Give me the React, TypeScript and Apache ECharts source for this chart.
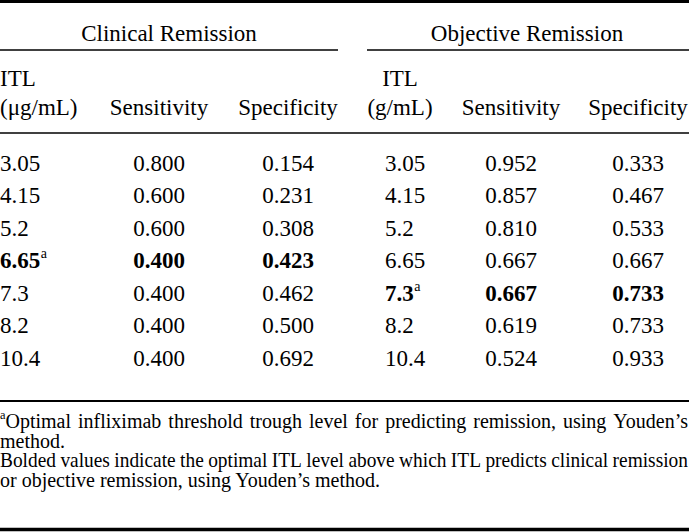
import React, { useEffect, useRef } from "react";
import * as echarts from "echarts";

const W = 689;
const H = 532;

const groupTitles = ["Clinical Remission", "Objective Remission"];
const headerTop = ["ITL", "ITL"];
const headerUnits = ["(\u03bcg/mL)", "(g/mL)"];
const headerCols = ["Sensitivity", "Specificity"];

const clinicalITL = ["3.05", "4.15", "5.2", "6.65", "7.3", "8.2", "10.4"];
const clinicalSens = ["0.800", "0.600", "0.600", "0.400", "0.400", "0.400", "0.400"];
const clinicalSpec = ["0.154", "0.231", "0.308", "0.423", "0.462", "0.500", "0.692"];
const clinicalBoldRow = 3;

const objectiveITL = ["3.05", "4.15", "5.2", "6.65", "7.3", "8.2", "10.4"];
const objectiveSens = ["0.952", "0.857", "0.810", "0.667", "0.667", "0.619", "0.524"];
const objectiveSpec = ["0.333", "0.467", "0.533", "0.667", "0.733", "0.733", "0.933"];
const objectiveBoldRow = 4;

const footnote1 = "Optimal infliximab threshold trough level for predicting remission, using Youden\u2019s";
const footnote2 = "method.";
const footnote3 = "Bolded values indicate the optimal ITL level above which ITL predicts clinical remission";
const footnote4 = "or objective remission, using Youden\u2019s method.";

const FONT = '"Liberation Serif", "Times New Roman", serif';
const INK = "#000";

let ctx: CanvasRenderingContext2D | null = null;
function tw(s: string, size: number, bold = false): number {
  if (!ctx) ctx = document.createElement("canvas").getContext("2d");
  if (!ctx) return s.length * size * 0.45;
  ctx.font = `${bold ? "bold " : ""}${size}px "Liberation Serif"`;
  return ctx.measureText(s).width;
}

function txt(
  text: string,
  x: number,
  y: number,
  size: number,
  align = "left",
  bold = false,
  extra: any = {}
): any {
  return {
    type: "text",
    x,
    y,
    silent: true,
    ...extra,
    style: {
      text,
      fill: INK,
      fontSize: size,
      fontFamily: FONT,
      fontWeight: bold ? "bold" : "normal",
      align,
      verticalAlign: "middle",
      textAlign: align,
      textVerticalAlign: "middle",
      ...(extra.style || {}),
    },
  };
}

function hline(x1: number, x2: number, y: number, w: number): any {
  return {
    type: "rect",
    silent: true,
    shape: { x: x1, y: y - w / 2, width: x2 - x1, height: w },
    style: { fill: INK },
  };
}

const FOOT_LH = 15;

function justify(words: string[], y: number, size: number, leadSup = ""): any[] {
  const out: any[] = [];
  const supSize = size * 0.62;
  const supW = leadSup ? tw(leadSup, supSize) : 0;
  const widths = words.map((w) => tw(w, size));
  const total = widths.reduce((a, b) => a + b, 0) + supW;
  const minGap = size * 0.22;
  const n = words.length;
  let sx = 1;
  let gap = (W - 1 - total) / (n - 1);
  if (gap < minGap) {
    gap = minGap;
    sx = (W - 1 - minGap * (n - 1)) / total;
  }
  const ex = { scaleX: sx, style: { lineHeight: FOOT_LH } };
  let x = 0;
  words.forEach((w, i) => {
    if (i === 0 && leadSup) {
      out.push(txt(leadSup, x, y - size * 0.3, supSize, "left", false, { scaleX: sx, style: { lineHeight: 9 } }));
      x += supW * sx;
    }
    out.push(txt(w, x, y, size, "left", false, ex));
    x += widths[i] * sx + gap;
  });
  return out;
}

function buildElements(): any[] {
  const els: any[] = [];
  const FS = 23;
  const FN = 20;

  // rules
  els.push(hline(0, W, 1.5, 3));
  els.push(hline(0, 338, 50, 1.3));
  els.push(hline(367, W, 50, 1.3));
  els.push(hline(0, W, 133, 1.3));
  els.push(hline(0, W, 401, 2));
  els.push(hline(0, W, 529.5, 3.5));

  // group titles
  els.push(txt(groupTitles[0], 169, 33, FS, "center"));
  els.push(txt(groupTitles[1], 527, 33, FS, "center"));

  // column headers
  els.push(txt(headerTop[0], 0, 78, FS, "left"));
  els.push(txt(headerUnits[0], 0, 107, FS, "left"));
  els.push(txt(headerCols[0], 159, 107, FS, "center"));
  els.push(txt(headerCols[1], 288, 107, FS, "center"));
  els.push(txt(headerTop[1], 400, 78, FS, "center"));
  els.push(txt(headerUnits[1], 400, 107, FS, "center"));
  els.push(txt(headerCols[0], 511, 107, FS, "center"));
  els.push(txt(headerCols[1], 638, 107, FS, "center"));

  // data rows
  const rowY = (i: number) => 163 + i * 32.5;
  const sup = (x: number, y: number) => txt("a", x, y - 7, 14, "left", false, { style: { lineHeight: 10 } });
  clinicalITL.forEach((v, i) => {
    const b = i === clinicalBoldRow;
    const y = rowY(i);
    els.push(txt(v, 0, y, FS, "left", b));
    if (b) els.push(sup(tw(v, FS, true) + 0.5, y));
    els.push(txt(clinicalSens[i], 159, y, FS, "center", b));
    els.push(txt(clinicalSpec[i], 288, y, FS, "center", b));
  });
  objectiveITL.forEach((v, i) => {
    const b = i === objectiveBoldRow;
    const y = rowY(i);
    els.push(txt(v, 385, y, FS, "left", b));
    if (b) els.push(sup(385 + tw(v, FS, true) + 0.5, y));
    els.push(txt(objectiveSens[i], 511, y, FS, "center", b));
    els.push(txt(objectiveSpec[i], 638, y, FS, "center", b));
  });

  // footnotes
  els.push(...justify(footnote1.split(" "), 421, FN, "a"));
  els.push(txt(footnote2, 0, 440.5, FN, "left", false, { style: { lineHeight: FOOT_LH } }));
  els.push(...justify(footnote3.split(" "), 460, FN));
  els.push(txt(footnote4, 0, 479.5, FN, "left", false, { style: { lineHeight: FOOT_LH } }));

  return els;
}

export default function App() {
  const ref = useRef<HTMLDivElement>(null);
  useEffect(() => {
    document.body.style.margin = "0";
    if (!ref.current) return;
    const chart = echarts.init(ref.current, undefined, { renderer: "svg", width: W, height: H });
    chart.setOption({
      animation: false,
      backgroundColor: "#fff",
      graphic: { elements: buildElements() },
    });
    return () => chart.dispose();
  }, []);
  return <div ref={ref} style={{ width: W, height: H }} />;
}
